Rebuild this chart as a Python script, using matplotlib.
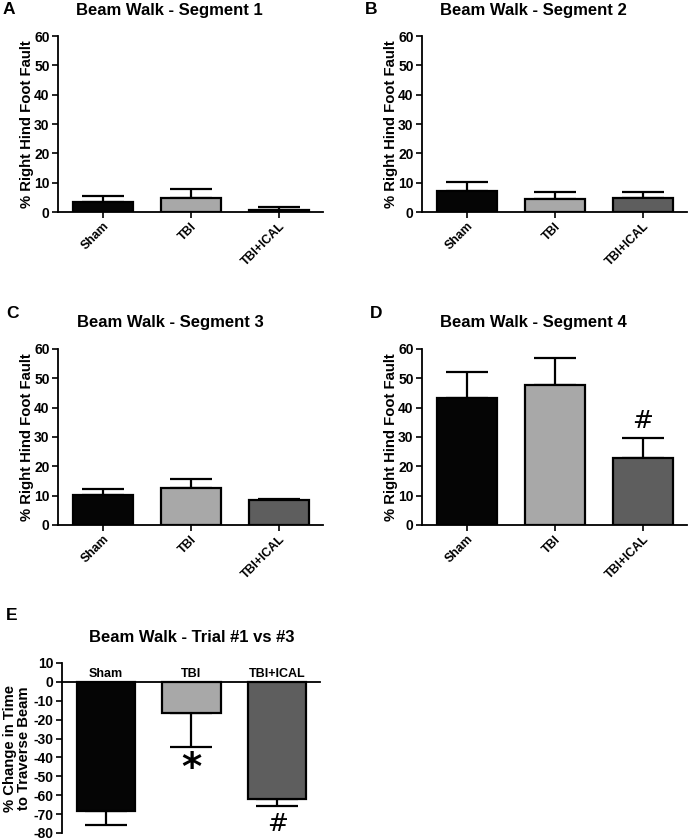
import numpy as np
import matplotlib
matplotlib.use('Agg')
import matplotlib.pyplot as plt

plt.rcParams['font.family'] = ['Liberation Sans', 'DejaVu Sans']
plt.rcParams['font.weight'] = 'bold'
plt.rcParams['axes.unicode_minus'] = False

groups = ['Sham', 'TBI', 'TBI+ICAL']
colors = ['#050505', '#a8a8a8', '#5e5e5e']

# segment data: mean and upper error (SEM)
seg1_mean = [3.4, 4.8, 0.7]
seg1_err = [1.9, 3.2, 0.9]
seg2_mean = [7.2, 4.4, 4.8]
seg2_err = [3.1, 2.3, 1.9]
seg3_mean = [10.2, 12.5, 8.5]
seg3_err = [2.0, 3.2, 0.5]
seg4_mean = [43.2, 47.8, 23.0]
seg4_err = [9.0, 9.0, 6.7]
trial_mean = [-68.4, -16.3, -62.0]
trial_err = [7.4, 18.1, 3.8]

seg_titles = ['Beam Walk - Segment 1', 'Beam Walk - Segment 2',
              'Beam Walk - Segment 3', 'Beam Walk - Segment 4']
seg_yticks = [0, 10, 20, 30, 40, 50, 60]
trial_yticks = [10, 0, -10, -20, -30, -40, -50, -60, -70, -80]

W, H = 689, 840
fig = plt.figure(figsize=(W / 100, H / 100), dpi=100)

def px_axes(l, t, r, b):
    return fig.add_axes([l / W, 1 - b / H, (r - l) / W, (b - t) / H])

x = np.arange(3)
bw = 0.68

def draw_bars(ax, means, errs, down=False):
    for i in range(3):
        ax.bar(x[i], means[i], width=bw, color=colors[i], edgecolor='black',
               linewidth=1.6, zorder=2)
        if down:
            yerr = [[errs[i]], [0]]
        else:
            yerr = [[0], [errs[i]]]
        ax.errorbar(x[i], means[i], yerr=yerr, fmt='none', ecolor='black',
                    elinewidth=1.6, capsize=15, capthick=1.6, zorder=1)

def style(ax):
    for s in ['top', 'right']:
        ax.spines[s].set_visible(False)
    for s in ['left', 'bottom']:
        ax.spines[s].set_linewidth(1.3)
    ax.tick_params(width=1.2, length=4, labelsize=10, pad=2)
    ax.set_xlim(-0.51, 2.5)

seg_data = [(seg1_mean, seg1_err), (seg2_mean, seg2_err),
            (seg3_mean, seg3_err), (seg4_mean, seg4_err)]
boxes = [(58, 36, 323, 212), (422, 36, 687, 212),
         (58, 349, 323, 525), (422, 349, 687, 525)]
letters = ['A', 'B', 'C', 'D']
letter_pos = [(3, 10), (365, 10), (6, 313), (370, 313)]
title_pos = [(169, 10), (533, 10), (170, 322), (533, 322)]

for k in range(4):
    ax = px_axes(*boxes[k])
    m, e = seg_data[k]
    draw_bars(ax, m, e)
    style(ax)
    ax.set_ylim(0, 60)
    ax.set_yticks(seg_yticks)
    ax.set_xticks(x)
    ax.set_xticklabels(groups, rotation=45, ha='right', rotation_mode='anchor', fontsize=8.8)
    ax.set_ylabel('% Right Hind Foot Fault', fontsize=10.7, fontweight='bold', labelpad=0)
    fig.text(letter_pos[k][0] / W, 1 - letter_pos[k][1] / H, letters[k],
             fontsize=12.5, fontweight='bold', va='center', ha='left')
    fig.text(title_pos[k][0] / W, 1 - title_pos[k][1] / H, seg_titles[k],
             fontsize=12, fontweight='bold', va='center', ha='center')
    if k == 3:
        ax.text(x[2], m[2] + e[2] + 1.5, '#', ha='center', va='bottom',
                fontsize=18, fontweight='normal', family='DejaVu Sans')

# panel E
ax = px_axes(62, 663, 320, 833)
draw_bars(ax, trial_mean, trial_err, down=True)
style(ax)
ax.set_ylim(-80, 10)
ax.set_yticks(trial_yticks)
ax.spines['bottom'].set_position(('data', 0))
ax.set_xticks(x)
ax.tick_params(axis='x', labelbottom=False, length=3)
for i in range(3):
    ax.text(x[i], 0.8, groups[i], ha='center', va='bottom', fontsize=9, fontweight='bold')
ax.set_ylabel('% Change in Time\nto Traverse Beam', fontsize=10.7, fontweight='bold',
              labelpad=2, linespacing=1.0)
ax.text(x[1], trial_mean[1] - trial_err[1] - 1.5, '*', ha='center', va='top',
        fontsize=28, fontweight='bold', family='DejaVu Sans')
ax.text(x[2], trial_mean[2] - trial_err[2] - 3, '#', ha='center', va='top',
        fontsize=18, fontweight='normal', family='DejaVu Sans')
fig.text(6 / W, 1 - 615 / H, 'E', fontsize=12.5, fontweight='bold', va='center', ha='left')
fig.text(192 / W, 1 - 637 / H, 'Beam Walk - Trial #1 vs #3', fontsize=12,
         fontweight='bold', va='center', ha='center')

fig.savefig('out.png', dpi=100)
